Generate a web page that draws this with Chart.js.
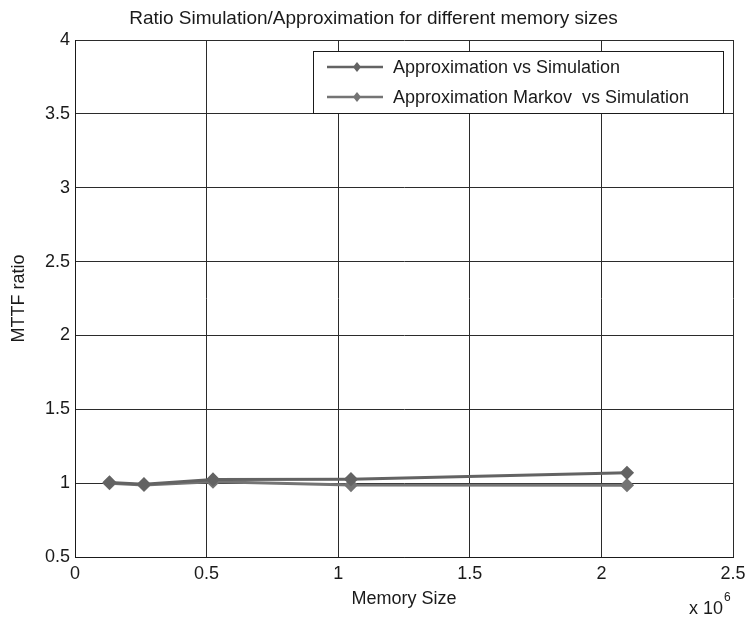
<!DOCTYPE html>
<html>
<head>
<meta charset="utf-8">
<script src="https://cdn.jsdelivr.net/npm/chart.js@4/dist/chart.umd.min.js"></script>
<style>
  html, body { margin: 0; padding: 0; background: #ffffff; }
  #ratio_chart_wrap { width: 747px; height: 622px; }
</style>
</head>
<body>
<div id="ratio_chart_wrap"><canvas id="ratio_chart"></canvas></div>
<script>
const memory_size_array      = [131072, 262144, 524288, 1048576, 2097152]
const approx_vs_sim_array    = [1.005, 0.993, 1.025, 1.027, 1.07]
const markov_vs_sim_array    = [1.0, 0.988, 1.01, 0.987, 0.986]
const series_label_array     = ['Approximation vs Simulation', 'Approximation Markov  vs Simulation']
const x_tick_array           = [0, 0.5, 1, 1.5, 2, 2.5]
const y_tick_array           = [0.5, 1, 1.5, 2, 2.5, 3, 3.5, 4]

const font_family = "'Liberation Sans', Arial, Helvetica, sans-serif"
const line_color_1 = '#636363'
const line_color_2 = '#747474'

function to_points(y_array){
  return memory_size_array.map((x, i) => ({x: x, y: y_array[i]}))
}

// legend box inside the axes, top right (matlab style)
const inside_legend = {
  id: 'inside_legend',
  afterDraw(chart){
    const ctx = chart.ctx
    const colors = [line_color_1, line_color_2]
    ctx.save()
    ctx.fillStyle = '#ffffff'
    ctx.fillRect(313, 51, 410, 62)
    ctx.strokeStyle = '#1a1a1a'
    ctx.lineWidth = 1
    ctx.strokeRect(313.5, 51.5, 410, 62)
    ctx.font = '18px ' + font_family
    ctx.textBaseline = 'middle'
    series_label_array.forEach((label, i) => {
      const y = 67 + i * 30
      ctx.strokeStyle = colors[i]
      ctx.lineWidth = 2.5
      ctx.beginPath()
      ctx.moveTo(327, y)
      ctx.lineTo(383, y)
      ctx.stroke()
      ctx.fillStyle = colors[i]
      ctx.beginPath()
      ctx.moveTo(357, y - 5)
      ctx.lineTo(361, y)
      ctx.lineTo(357, y + 5)
      ctx.lineTo(353, y)
      ctx.closePath()
      ctx.fill()
      ctx.fillStyle = '#1a1a1a'
      ctx.fillText(label, 393, y + 1)
    })
    // exponent label under the x axis
    ctx.fillStyle = '#1a1a1a'
    ctx.font = '18px ' + font_family
    ctx.textAlign = 'right'
    ctx.fillText('x 10', 723, 609)
    ctx.textAlign = 'left'
    ctx.font = '12px ' + font_family
    ctx.fillText('6', 724, 598)
    ctx.restore()
  }
}

const ctx = document.getElementById('ratio_chart').getContext('2d')

const chart = new Chart(ctx, {
  type: 'line',
  data: {
    datasets: [
      {
        label: series_label_array[0],
        data: to_points(approx_vs_sim_array),
        borderColor: line_color_1,
        backgroundColor: line_color_1,
        borderWidth: 3,
        pointStyle: 'rectRot',
        pointRadius: 5,
        tension: 0
      },
      {
        label: series_label_array[1],
        data: to_points(markov_vs_sim_array),
        borderColor: line_color_2,
        backgroundColor: line_color_2,
        borderWidth: 3,
        pointStyle: 'rectRot',
        pointRadius: 5,
        tension: 0
      }]
  },
  plugins: [inside_legend],
  options: {
    responsive: true,
    maintainAspectRatio: false,
    animation: false,
    layout: {
      padding: {top: 0, right: 0, bottom: 0, left: 0}
    },
    plugins: {
      legend: {display: false},
      tooltip: {enabled: false},
      title: {
        display: true,
        text: 'Ratio Simulation/Approximation for different memory sizes',
        color: '#1a1a1a',
        font: {family: font_family, size: 19, weight: 'normal'},
        padding: {top: 7, bottom: 10.2}
      }
    },
    scales: {
      x: {
        type: 'linear',
        min: 0,
        max: 2500000,
        afterBuildTicks: (scale) => {
          scale.ticks = x_tick_array.map(v => ({value: v * 1e6}))
        },
        afterFit: (scale) => {
          scale.height = 65
          scale.paddingRight = 14
        },
        ticks: {
          callback: (value) => String(value / 1e6),
          color: '#1a1a1a',
          font: {family: font_family, size: 18},
          padding: 6,
          maxRotation: 0
        },
        grid: {color: '#2b2b2b', lineWidth: 1, drawTicks: false},
        border: {color: '#1a1a1a', width: 1},
        title: {
          display: true,
          text: 'Memory Size',
          color: '#1a1a1a',
          font: {family: font_family, size: 18},
          padding: {top: 0, bottom: 12}
        }
      },
      y: {
        min: 0.5,
        max: 4,
        afterBuildTicks: (scale) => {
          scale.ticks = y_tick_array.map(v => ({value: v}))
        },
        afterFit: (scale) => { scale.width = 75 },
        ticks: {
          callback: (value) => String(value),
          color: '#1a1a1a',
          font: {family: font_family, size: 18},
          padding: 5
        },
        grid: {color: '#2b2b2b', lineWidth: 1, drawTicks: false},
        border: {color: '#1a1a1a', width: 1},
        title: {
          display: true,
          text: 'MTTF ratio',
          color: '#1a1a1a',
          font: {family: font_family, size: 18},
          padding: {top: 8, bottom: 0}
        }
      }
    }
  }
});
</script>
</body>
</html>
